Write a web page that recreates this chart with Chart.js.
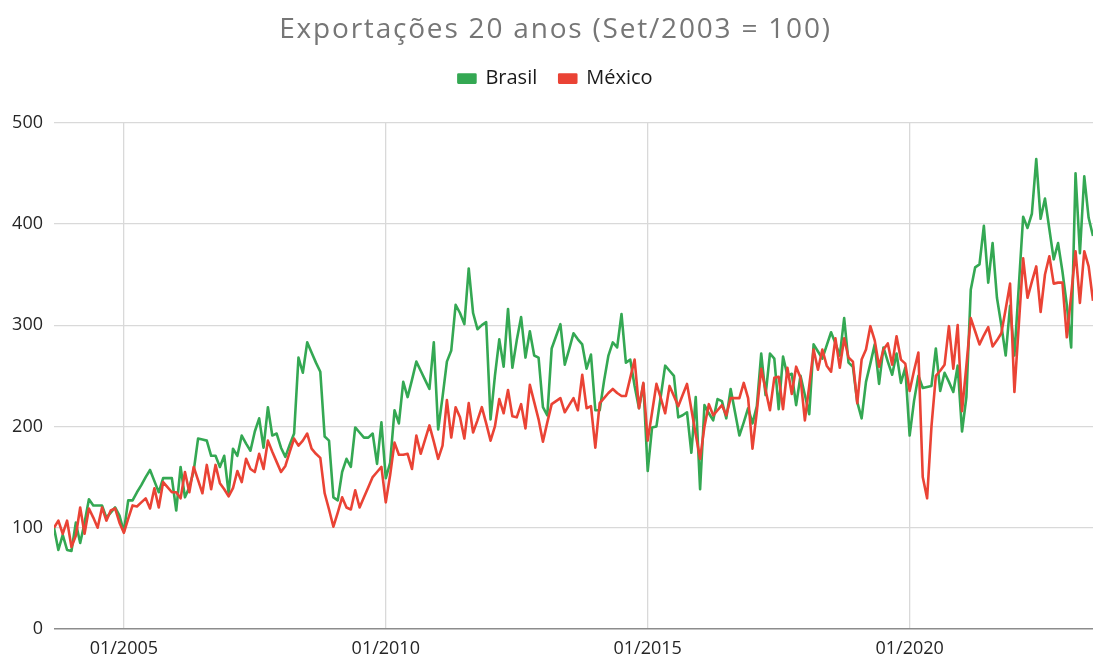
<!DOCTYPE html>
<html>
<head>
<meta charset="utf-8">
<script src="https://cdn.jsdelivr.net/npm/chart.js@4.4.1/dist/chart.umd.min.js"></script>
<style>
  html, body { margin: 0; padding: 0; background: #ffffff; }
  #wrap { width: 1093px; height: 657px; position: relative; }
</style>
</head>
<body>
<div id="wrap"><canvas id="c" width="1093" height="657"></canvas></div>
<script>
// ---- Data (monthly index, Set/2003 = 100) ----
const startYear = 2003;
const startMonth = 9; // September
const tickLabels = ['01/2005', '01/2010', '01/2015', '01/2020'];
const yTickValues = [0, 100, 200, 300, 400, 500];

const brasil = [
  // 2003 (Sep-Dec)
  100, 78, 93, 78,
  // 2004
  77, 105, 85, 105, 128, 122, 122, 122, 110, 115, 120, 112,
  // 2005
  96, 127, 127, 135, 142, 150, 157, 146, 135, 149, 149, 149,
  // 2006
  117, 160, 130, 140, 156, 188, 187, 186, 171, 171, 160, 171,
  // 2007
  134, 178, 171, 191, 183, 176, 195, 208, 179, 219, 191, 193,
  // 2008
  179, 170, 182, 193, 268, 253, 283, 273, 263, 254, 190, 186,
  // 2009
  130, 127, 155, 168, 160, 199, 194, 189, 189, 193, 163, 204,
  // 2010
  149, 164, 216, 203, 244, 229, 246, 264, 255, 246, 237, 283,
  // 2011
  197, 229, 264, 275, 320, 312, 301, 356, 312, 296, 300, 303,
  // 2012
  207, 250, 286, 259, 316, 258, 285, 308, 268, 294, 270, 268,
  // 2013
  219, 211, 277, 289, 301, 261, 276, 292, 286, 281, 257, 271,
  // 2014
  216, 216, 245, 270, 283, 278, 311, 263, 266, 240, 218, 242,
  // 2015
  156, 199, 200, 230, 260, 255, 250, 209, 211, 214, 174, 229,
  // 2016
  138, 221, 213, 206, 227, 225, 208, 237, 214, 191, 204, 218,
  // 2017
  203, 220, 272, 231, 272, 267, 217, 269, 250, 252, 221, 250,
  // 2018
  231, 212, 281, 274, 267, 280, 293, 282, 270, 307, 263, 259,
  // 2019
  224, 208, 244, 262, 281, 242, 278, 264, 251, 272, 243, 258,
  // 2020
  191, 225, 250, 238, 239, 240, 277, 235, 253, 244, 234, 260,
  // 2021
  195, 229, 335, 357, 360, 398, 342, 381, 327, 300, 270, 319,
  // 2022
  270, 338, 407, 396, 410, 464, 405, 425, 395, 365, 381, 353,
  // 2023 (Jan-Jul)
  320, 278, 450, 371, 447, 406, 388
];

const mexico = [
  // 2003 (Sep-Dec)
  100, 107, 94, 107,
  // 2004
  81, 92, 120, 94, 119, 110, 100, 120, 107, 117, 119, 105,
  // 2005
  95, 109, 122, 121, 125, 129, 119, 139, 120, 145, 140, 135,
  // 2006
  135, 129, 155, 135, 160, 147, 134, 162, 138, 162, 144, 138,
  // 2007
  131, 139, 156, 145, 168, 158, 155, 173, 158, 186, 175, 165,
  // 2008
  155, 161, 175, 188, 181, 186, 193, 178, 173, 169, 134, 118,
  // 2009
  101, 115, 130, 120, 118, 137, 120, 130, 140, 150, 155, 160,
  // 2010
  125, 152, 184, 172, 172, 173, 158, 191, 173, 187, 201, 185,
  // 2011
  168, 181, 226, 189, 219, 209, 188, 223, 194, 206, 219, 203,
  // 2012
  186, 200, 227, 213, 236, 210, 209, 222, 198, 241, 224, 207,
  // 2013
  185, 204, 222, 225, 228, 214, 221, 228, 216, 251, 218, 220,
  // 2014
  179, 223, 228, 233, 237, 233, 230, 230, 248, 266, 218, 243,
  // 2015
  186, 214, 242, 228, 213, 240, 230, 220, 231, 242, 217, 192,
  // 2016
  168, 200, 222, 211, 216, 221, 211, 228, 228, 228, 243, 228,
  // 2017
  178, 215, 257, 236, 216, 248, 249, 217, 258, 232, 259, 248,
  // 2018
  206, 240, 276, 256, 276, 260, 254, 287, 258, 287, 268, 264,
  // 2019
  223, 266, 276, 299, 285, 259, 276, 282, 261, 289, 266, 262,
  // 2020
  235, 255, 273, 150, 129, 200, 250, 255, 261, 299, 257, 300,
  // 2021
  215, 260, 307, 294, 281, 290, 298, 279, 285, 292, 316, 341,
  // 2022
  234, 300, 366, 327, 343, 358, 313, 350, 368, 341, 342, 342,
  // 2023 (Jan-Jul)
  288, 330, 373, 322, 373, 358, 324
];

// Month categories "MM/YYYY"
const months = [];
for (let i = 0; i < brasil.length; i++) {
  const m0 = startMonth - 1 + i;
  const y = startYear + Math.floor(m0 / 12);
  const m = (m0 % 12) + 1;
  months.push((m < 10 ? '0' : '') + m + '/' + y);
}
const tickIdx = tickLabels.map(l => months.indexOf(l));
const brasilPts = brasil.map((v, i) => ({ x: i, y: v }));
const mexicoPts = mexico.map((v, i) => ({ x: i, y: v }));

const GRID = '#d9d9d9';
const AXIS = '#8c8c8c';
const FONT = "'Open Sans', 'Liberation Sans', sans-serif";

const layoutTweaks = {
  id: 'layoutTweaks',
  afterInit(chart) {
    const tb = chart.titleBlock;
    if (tb && !tb._wrapped) {
      const orig = tb.draw.bind(tb);
      tb.draw = function (area) {
        const ctx = chart.ctx;
        ctx.save();
        ctx.translate(9, 0);
        try { ctx.letterSpacing = '1.8px'; } catch (e) {}
        orig(area);
        ctx.restore();
      };
      tb._wrapped = true;
    }
    const lg = chart.legend;
    if (lg && !lg._wrapped) {
      const origFit = lg.fit.bind(lg);
      lg.fit = function () {
        origFit();
        if (this.options.display) this.height += 24;
      };
      const origDraw = lg.draw.bind(lg);
      lg.draw = function () {
        const ctx = chart.ctx;
        ctx.save();
        ctx.translate(9, 0);
        origDraw();
        ctx.restore();
      };
      lg._wrapped = true;
    }
  }
};

new Chart(document.getElementById('c'), {
  type: 'line',
  data: {
    datasets: [
      {
        label: 'Brasil',
        data: brasilPts,
        borderColor: '#34A853',
        backgroundColor: '#34A853',
        borderWidth: 2.6,
        pointRadius: 0,
        tension: 0,
        borderJoinStyle: 'round',
        order: 1
      },
      {
        label: 'México',
        data: mexicoPts,
        borderColor: '#EA4335',
        backgroundColor: '#EA4335',
        borderWidth: 2.6,
        pointRadius: 0,
        tension: 0,
        borderJoinStyle: 'round',
        order: 0
      }
    ]
  },
  options: {
    responsive: false,
    animation: false,
    layout: { padding: { left: 0, right: 0, top: 0, bottom: 0 } },
    plugins: {
      title: {
        display: true,
        text: 'Exportações 20 anos (Set/2003 = 100)',
        color: '#767676',
        font: { family: FONT, size: 28, weight: 'normal' },
        padding: { top: 13, bottom: 0 }
      },
      legend: {
        display: true,
        position: 'top',
        labels: {
          color: '#1a1a1a',
          font: { family: FONT, size: 20 },
          boxWidth: 17,
          boxHeight: 8,
          padding: 22,
          sort: (a, b) => a.datasetIndex - b.datasetIndex
        }
      },
      tooltip: { enabled: false }
    },
    scales: {
      x: {
        type: 'linear',
        min: 0,
        max: brasil.length - 1,
        afterBuildTicks: (scale) => { scale.ticks = tickIdx.map(v => ({ value: v })); },
        grid: { drawTicks: false, lineWidth: 1.3, color: GRID },
        border: { display: false },
        ticks: {
          autoSkip: false,
          maxRotation: 0,
          minRotation: 0,
          padding: 9,
          color: '#262626',
          font: { family: FONT, size: 18 },
          callback: (value) => months[Math.round(value)]
        },
        afterFit: (scale) => { scale.height = 28; }
      },
      y: {
        min: 0,
        max: 500,
        afterBuildTicks: (scale) => { scale.ticks = yTickValues.map(v => ({ value: v })); },
        grid: {
          drawTicks: false,
          lineWidth: (ctx) => (ctx.tick && ctx.tick.value === 0) ? 1.6 : 1.3,
          color: (ctx) => (ctx.tick && ctx.tick.value === 0) ? AXIS : GRID
        },
        border: { display: false },
        ticks: {
          padding: 11,
          color: '#262626',
          font: { family: FONT, size: 18 },
          callback: (value) => String(value)
        },
        afterFit: (scale) => { scale.width = 54; }
      }
    }
  },
  plugins: [layoutTweaks]
});
</script>
</body>
</html>
